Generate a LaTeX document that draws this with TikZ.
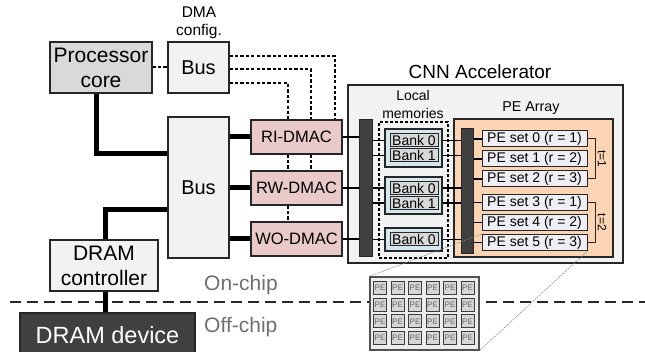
\documentclass[tikz,border=0pt]{standalone}
\usepackage{fontspec}
\setmainfont{Liberation Sans}
\definecolor{edge}{HTML}{262626}
\definecolor{procfill}{HTML}{D9D9D9}
\definecolor{busfill}{HTML}{F2F2F2}
\definecolor{dmacfill}{HTML}{EACAC8}
\definecolor{accfill}{HTML}{F2F2F2}
\definecolor{barfill}{HTML}{404040}
\definecolor{grpfill}{HTML}{D3E9EF}
\definecolor{bankfill}{HTML}{D9D9D9}
\definecolor{pearrfill}{HTML}{FBD4B4}
\definecolor{pesetfill}{HTML}{EFEEF4}
\definecolor{devfill}{HTML}{404040}
\definecolor{chipgray}{HTML}{6F6F6F}
\definecolor{gridfill}{HTML}{EDEDED}
\definecolor{cellfill}{HTML}{D6D6D6}
\newcommand\fsz[2]{\fontsize{#1}{#2}\selectfont}
\tikzset{
  blk/.style={draw=edge, line width=1.2pt, inner sep=0pt, align=center},
  buslink/.style={line width=5pt, draw=black},
  link/.style={line width=1.2pt, draw=black},
  cfgline/.style={line width=2pt, draw=black, dash pattern=on 3.2pt off 2.2pt},
  barbox/.style={draw=edge, fill=barfill, line width=1pt, inner sep=0pt},
  bankbox/.style={draw=edge, fill=bankfill, line width=1pt, minimum width=48pt,
    minimum height=13pt, inner sep=0pt, font=\fsz{14}{16}},
  bankgrp/.style={draw=edge, fill=grpfill, line width=1.2pt, minimum width=57pt, inner sep=0pt},
  peset/.style={draw=edge, fill=pesetfill, line width=1pt, minimum width=105pt,
    minimum height=16pt, inner sep=0pt, font=\fsz{14}{16}},
  bracket/.style={draw=edge, line width=1pt},
  sepline/.style={draw=edge, line width=2pt, dash pattern=on 11pt off 6pt},
  zoomline/.style={draw=gray, line width=0.6pt, dash pattern=on 1.5pt off 1pt},
  pecell/.style={draw=edge!90, fill=cellfill, line width=0.8pt, minimum width=13pt,
    minimum height=13pt, inner sep=0pt, text=black!60, font=\fsz{8}{9}},
}
\begin{document}
\begin{tikzpicture}[x=1pt, y=-1pt]
\useasboundingbox (0,0) rectangle (645,352);
\clip (0,0) rectangle (645,352);

% ---- host side ----
\node[blk, fill=procfill, minimum width=102pt, minimum height=51pt, font=\fsz{21}{25}]
  (proc) at (101,67.5) {Processor\\core};
\node[blk, fill=busfill, minimum width=61pt, minimum height=51pt, font=\fsz{20}{24}]
  (cfgbus) at (198.5,67.5) {Bus};
\node[align=center, inner sep=0pt, font=\fsz{15.5}{18}] (cfglabel) at (199,23) {DMA\\config.};
\node[blk, fill=busfill, minimum width=61pt, minimum height=141pt, font=\fsz{20}{24}]
  (bus) at (198.5,187.5) {Bus};

\node[blk, fill=dmacfill, minimum width=91pt, minimum height=34pt, font=\fsz{16.5}{19}]
  (ri) at (296.5,137) {RI-DMAC};
\node[blk, fill=dmacfill, minimum width=91pt, minimum height=34pt, font=\fsz{16.5}{19}]
  (rw) at (296.5,188) {RW-DMAC};
\node[blk, fill=dmacfill, minimum width=91pt, minimum height=34pt, font=\fsz{16.5}{19}]
  (wo) at (296.5,239) {WO-DMAC};

\node[blk, fill=busfill, minimum width=108pt, minimum height=51pt, font=\fsz{21}{25}]
  (ctrl) at (104,265.5) {DRAM\\controller};

% on-chip / off-chip boundary
\coordinate (sepL) at (10,302);
\coordinate (sepR) at (645,302);
\draw[sepline] (sepL) -- (sepR);
\node[anchor=west, inner sep=0pt, text=chipgray, font=\fsz{21}{25}] (onchip) at (204,285) {On-chip};
\node[anchor=west, inner sep=0pt, text=chipgray, font=\fsz{21}{25}] (offchip) at (204,327) {Off-chip};

\node[blk, fill=devfill, text=white, minimum width=175pt, minimum height=44pt, font=\fsz{23.5}{28}]
  (dev) at (107.5,335) {DRAM device};

% configuration paths (dashed)
\draw[cfgline] (proc.east) -- (cfgbus.west);
\draw[cfgline] ([yshift=11.5pt]cfgbus.east) -| ([xshift=38.5pt]ri.north);
\draw[cfgline] ([yshift=-1.5pt]cfgbus.east) -| ([xshift=14.5pt]ri.north);
\draw[cfgline] ([yshift=-15.5pt]cfgbus.east) -| ([xshift=-8.5pt]ri.north);
\draw[cfgline] ([xshift=14.5pt]ri.south) -- ([xshift=14.5pt]rw.north);
\draw[cfgline] ([xshift=-8.5pt]ri.south) -- ([xshift=-8.5pt]rw.north);
\draw[cfgline] ([xshift=-8.5pt]rw.south) -- ([xshift=-8.5pt]wo.north);

% system bus paths (thick)
\draw[buslink] ([xshift=-5pt]proc.south) |- ([yshift=33.5pt]bus.west);
\draw[buslink] ([xshift=1pt]ctrl.north) |- ([yshift=-22.5pt]bus.west);
\draw[buslink] ([xshift=1pt]ctrl.south) -- ([xshift=1pt]ctrl.south |- dev.north);
\draw[buslink] (bus.east |- ri) -- (ri.west);
\draw[buslink] (bus.east |- rw) -- (rw.west);
\draw[buslink] (bus.east |- wo) -- (wo.west);

% ---- CNN accelerator ----
\node[font=\fsz{19}{22}, inner sep=0pt] (acclabel) at (480,72) {CNN Accelerator};
\node[blk, fill=accfill, minimum width=275pt, minimum height=178pt] (acc) at (485.5,174) {};

\node[barbox, minimum width=13pt, minimum height=137pt] (bar1) at (365.5,188.5) {};
\node[draw=black, line width=1.5pt, dash pattern=on 3pt off 2pt, minimum width=69pt,
  minimum height=136pt, inner sep=0pt] (lmem) at (413.5,190) {};
\node[align=center, inner sep=0pt, font=\fsz{14}{18}] (lmemlabel) at (413,104) {Local\\memories};

\node[bankgrp, minimum height=38pt] (g1) at (413.5,148) {};
\node[bankgrp, minimum height=37pt] (g2) at (413.5,195.5) {};
\node[bankgrp, minimum height=23pt] (g3) at (413.5,239.5) {};
\node[bankbox] (g1b0) at (414,140.5) {Bank 0};
\node[bankbox] (g1b1) at (414,155.5) {Bank 1};
\node[bankbox] (g2b0) at (414,188) {Bank 0};
\node[bankbox] (g2b1) at (414,203) {Bank 1};
\node[bankbox] (g3b0) at (414,239.5) {Bank 0};

\node[blk, fill=pearrfill, minimum width=159pt, minimum height=138pt] (pearr) at (533.5,188) {};
\node[font=\fsz{14.3}{17}, inner sep=0pt] (pelabel) at (531,108) {PE Array};
\node[barbox, minimum width=12pt, minimum height=125pt] (bar2) at (467,191.5) {};

\node[peset] (pe0) at (534.5,139)   {PE set 0 (r = 1)};
\node[peset] (pe1) at (534.5,159)   {PE set 1 (r = 2)};
\node[peset] (pe2) at (534.5,179)   {PE set 2 (r = 3)};
\node[peset] (pe3) at (534.5,202.5) {PE set 3 (r = 1)};
\node[peset] (pe4) at (534.5,222.5) {PE set 4 (r = 2)};
\node[peset] (pe5) at (534.5,242.5) {PE set 5 (r = 3)};

% DMAC -> crossbar
\draw[link] (ri.east) -- (ri.east -| bar1.west);
\draw[link] (rw.east) -- (rw.east -| bar1.west);
\draw[link] (wo.east) -- (wo.east -| bar1.west);
% crossbar -> memory banks -> crossbar
\foreach \b/\g in {g1b0/g1, g1b1/g1, g2b0/g2, g2b1/g2, g3b0/g3} {
  \draw[link] (bar1.east |- \b) -- (\g.west |- \b);
  \draw[link] (\g.east |- \b) -- (bar2.west |- \b);
}
% crossbar -> PE sets
\foreach \p in {pe0,pe1,pe2,pe3,pe4,pe5}
  \draw[link] (bar2.east |- \p) -- (\p.west);

% time-step brackets
\draw[bracket] (pe0.east) -- ++(8,0) |- (pe2.east);
\draw[bracket] (pe3.east) -- ++(8,0) |- (pe5.east);
\node[rotate=-90, inner sep=0pt, font=\fsz{12}{14}] (t1) at (602,159) {t=1};
\node[rotate=-90, inner sep=0pt, font=\fsz{12}{14}] (t2) at (602,222.5) {t=2};

% ---- PE grid inset ----
\node[draw=edge!80, fill=gridfill, line width=1.2pt, minimum width=109pt,
  minimum height=73pt, inner sep=0pt] (grid) at (424.5,313.5) {};
\foreach \c in {0,...,5}
  \foreach \r in {0,...,3}
    \node[pecell] (cell-\c-\r) at ({380+17.5*\c},{288+16.7*\r}) {PE};

\draw[zoomline] (pe5.north west) -- (grid.north west);
\draw[zoomline] (pe5.south east) -- (grid.south east);
\end{tikzpicture}
\end{document}
